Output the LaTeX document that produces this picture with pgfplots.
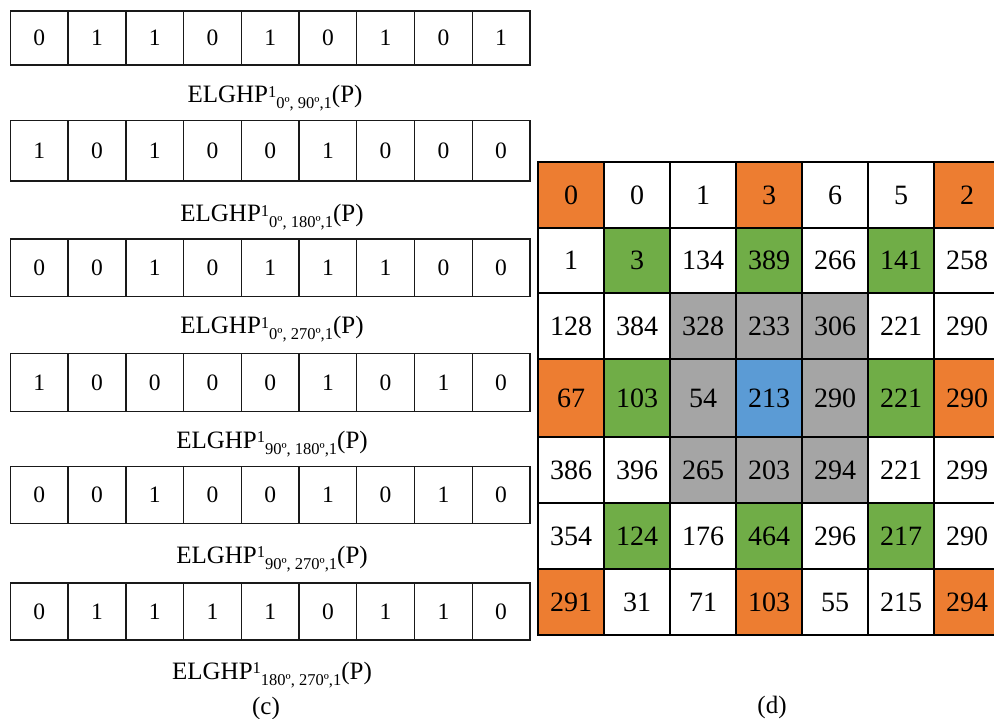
\documentclass[border=0pt]{standalone}
\usepackage{pgfplots}
\pgfplotsset{compat=1.18}
\usepackage{pgfplotstable}
\usepackage{fontspec}
\setmainfont{Liberation Serif}
\definecolor{cwh}{HTML}{FFFFFF}
\definecolor{cor}{HTML}{ED7D31}
\definecolor{cgr}{HTML}{70AD47}
\definecolor{cgy}{HTML}{A5A5A5}
\definecolor{cbl}{HTML}{5B9BD5}
\pgfdeclareplotmark{nothing}{}

% right 7x7 grid (d); c: 0 white, 1 orange, 2 green, 3 gray, 4 blue
\pgfplotstableread{
x y w h c v
571 195 66 66 1 0
637 195 66 66 0 0
703 195 66 66 0 1
769 195 66 66 1 3
835 195 66 66 0 6
901 195 66 66 0 5
967 195 66 66 1 2
571 260.5 66 65 0 1
637 260.5 66 65 2 3
703 260.5 66 65 0 134
769 260.5 66 65 2 389
835 260.5 66 65 0 266
901 260.5 66 65 2 141
967 260.5 66 65 0 258
571 326 66 66 0 128
637 326 66 66 0 384
703 326 66 66 3 328
769 326 66 66 3 233
835 326 66 66 3 306
901 326 66 66 0 221
967 326 66 66 0 290
571 398 66 78 1 67
637 398 66 78 2 103
703 398 66 78 3 54
769 398 66 78 4 213
835 398 66 78 3 290
901 398 66 78 2 221
967 398 66 78 1 290
571 470 66 66 0 386
637 470 66 66 0 396
703 470 66 66 3 265
769 470 66 66 3 203
835 470 66 66 3 294
901 470 66 66 0 221
967 470 66 66 0 299
571 536 66 66 0 354
637 536 66 66 2 124
703 536 66 66 0 176
769 536 66 66 2 464
835 536 66 66 0 296
901 536 66 66 2 217
967 536 66 66 0 290
571 602 66 66 1 291
637 602 66 66 0 31
703 602 66 66 0 71
769 602 66 66 1 103
835 602 66 66 0 55
901 602 66 66 0 215
967 602 66 66 1 294
}\rightgrid

% left 6 rows of 9 cells (c)
\pgfplotstableread{
x y w h c v
39.2 38 57.7 54 0 0
96.9 38 57.7 54 0 1
154.7 38 57.7 54 0 1
212.4 38 57.7 54 0 0
270.2 38 57.7 54 0 1
327.9 38 57.7 54 0 0
385.6 38 57.7 54 0 1
443.4 38 57.7 54 0 0
501.1 38 57.7 54 0 1
39.2 150.7 57.7 60.5 0 1
96.9 150.7 57.7 60.5 0 0
154.7 150.7 57.7 60.5 0 1
212.4 150.7 57.7 60.5 0 0
270.2 150.7 57.7 60.5 0 0
327.9 150.7 57.7 60.5 0 1
385.6 150.7 57.7 60.5 0 0
443.4 150.7 57.7 60.5 0 0
501.1 150.7 57.7 60.5 0 0
39.2 267.7 57.7 57.4 0 0
96.9 267.7 57.7 57.4 0 0
154.7 267.7 57.7 57.4 0 1
212.4 267.7 57.7 57.4 0 0
270.2 267.7 57.7 57.4 0 1
327.9 267.7 57.7 57.4 0 1
385.6 267.7 57.7 57.4 0 1
443.4 267.7 57.7 57.4 0 0
501.1 267.7 57.7 57.4 0 0
39.2 382.5 57.7 57.6 0 1
96.9 382.5 57.7 57.6 0 0
154.7 382.5 57.7 57.6 0 0
212.4 382.5 57.7 57.6 0 0
270.2 382.5 57.7 57.6 0 0
327.9 382.5 57.7 57.6 0 1
385.6 382.5 57.7 57.6 0 0
443.4 382.5 57.7 57.6 0 1
501.1 382.5 57.7 57.6 0 0
39.2 495.1 57.7 57.2 0 0
96.9 495.1 57.7 57.2 0 0
154.7 495.1 57.7 57.2 0 1
212.4 495.1 57.7 57.2 0 0
270.2 495.1 57.7 57.2 0 0
327.9 495.1 57.7 57.2 0 1
385.6 495.1 57.7 57.2 0 0
443.4 495.1 57.7 57.2 0 1
501.1 495.1 57.7 57.2 0 0
39.2 611.5 57.7 57 0 0
96.9 611.5 57.7 57 0 1
154.7 611.5 57.7 57 0 1
212.4 611.5 57.7 57 0 1
270.2 611.5 57.7 57 0 1
327.9 611.5 57.7 57 0 0
385.6 611.5 57.7 57 0 1
443.4 611.5 57.7 57 0 1
501.1 611.5 57.7 57 0 0
}\leftgrid

\pgfplotsset{
  cellplot/.style n args={2}{
    scatter, only marks, mark=nothing,
    visualization depends on={\thisrow{w}\as\cw},
    visualization depends on={\thisrow{h}\as\ch},
    visualization depends on={\thisrow{c}\as\cci},
    visualization depends on={\thisrow{v}\as\cv},
    scatter/@pre marker code/.code={%
      \pgfmathtruncatemacro\ci{\cci}%
      \pgfmathtruncatemacro\vv{\cv}%
      \ifcase\ci\def\cc{cwh}\or\def\cc{cor}\or\def\cc{cgr}\or\def\cc{cgy}\or\def\cc{cbl}\fi
      \fill[fill=\cc, draw=#2, line width=1.3pt]
        ({-0.5*\cw pt},{-0.5*\ch pt}) rectangle ({0.5*\cw pt},{0.5*\ch pt});
      \node[font=\fontsize{#1}{#1}\selectfont, inner sep=0pt] at (0,0) {\vv};
    },
    scatter/@post marker code/.code={},
  },
}

\newcommand\lbl{\fontsize{25}{27}\selectfont}
\newcommand\elg[1]{ELGHP\raisebox{5.5pt}{\fontsize{16.5}{16.5}\selectfont 1}\raisebox{-6pt}{\fontsize{16.5}{16.5}\selectfont #1}(P)}

\begin{document}
\begin{tikzpicture}
\begin{axis}[
  name=ax,
  x=1pt, y=1pt,
  xmin=0, xmax=994, ymin=0, ymax=719,
  y dir=reverse,
  hide axis,
  clip=false,
]
\addplot[cellplot={23.5}{black!90}] table[x=x, y=y] {\leftgrid};
\addplot[cellplot={28}{black}] table[x=x, y=y] {\rightgrid};

\node[anchor=base, font=\lbl] at (axis cs:275,103) {\elg{0º, 90º,1}};
\node[anchor=base, font=\lbl] at (axis cs:272,222) {\elg{0º, 180º,1}};
\node[anchor=base, font=\lbl] at (axis cs:272,334) {\elg{0º, 270º,1}};
\node[anchor=base, font=\lbl] at (axis cs:272,448) {\elg{90º, 180º,1}};
\node[anchor=base, font=\lbl] at (axis cs:272,563) {\elg{90º, 270º,1}};
\node[anchor=base, font=\lbl] at (axis cs:272,679) {\elg{180º, 270º,1}};
\node[anchor=base, font=\lbl] at (axis cs:266,714) {(c)};
\node[anchor=base, font=\lbl] at (axis cs:772,713) {(d)};
\end{axis}
\pgfresetboundingbox
\useasboundingbox (ax.south west) rectangle (ax.north east);
\end{tikzpicture}
\end{document}
